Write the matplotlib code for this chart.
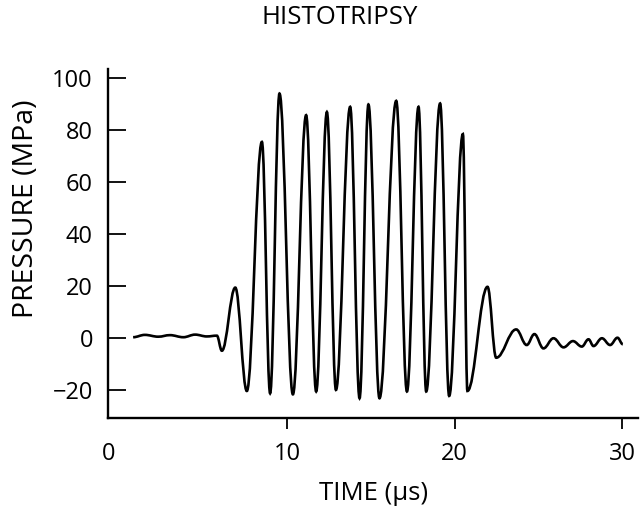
import numpy as np
import matplotlib
matplotlib.use("Agg")
import matplotlib.pyplot as plt
from matplotlib.path import Path
from matplotlib.patches import PathPatch

plt.rcParams['font.family'] = ['Open Sans', 'DejaVu Sans']

# turning points of the pressure trace (time in us, pressure in MPa)
t = [0.8, 1.5, 2.3, 3.0, 3.8, 4.5, 5.2, 5.8,
     6.10, 6.90, 7.59, 8.49, 8.98, 9.54, 10.34, 11.13, 11.73, 12.37,
     12.91, 13.76, 14.32, 14.85, 15.51, 16.51, 17.15, 17.84, 18.30,
     19.13, 19.67, 20.49, 20.76, 21.96, 22.48, 23.67, 24.30, 24.76,
     25.30, 25.90, 26.50, 27.06, 27.59, 27.99, 28.29, 28.79, 29.28,
     29.72, 30.04]
p = [0.3, 1.2, 0.5, 1.1, 0.3, 1.3, 0.6, 0.9,
     -4.9, 19.4, -20.4, 75.5, -21.3, 94.1, -21.7, 85.8, -20.6, 87.0,
     -20.0, 89.0, -23.2, 89.9, -23.2, 91.3, -20.6, 89.0, -20.6,
     90.3, -22.3, 78.5, -20.4, 19.7, -7.6, 3.3, -2.7, 1.5,
     -4.0, -0.1, -3.6, -1.2, -3.3, -0.5, -3.1, -0.1, -2.7,
     0.1, -2.4]

xticks = [10, 20, 30]
yticks = [-20, 0, 20, 40, 60, 80, 100]

fig = plt.figure(figsize=(6.4, 5.24), dpi=100)
ax = fig.add_axes([0.169, 0.2023, 0.828, 0.6657])

# smooth curve: cubic bezier between turning points, flat tangent at each one
k = 0.38
verts = [(t[0], p[0])]
codes = [Path.MOVETO]
for i in range(len(t) - 1):
    dx = t[i + 1] - t[i]
    verts += [(t[i] + k * dx, p[i]), (t[i + 1] - k * dx, p[i + 1]), (t[i + 1], p[i + 1])]
    codes += [Path.CURVE4] * 3
ax.add_patch(PathPatch(Path(verts, codes), facecolor='none', edgecolor='black', lw=1.9))

ax.set_xlim(-0.69, 30.95)
ax.set_ylim(-30.8, 103.5)

ax.spines['top'].set_visible(False)
ax.spines['right'].set_visible(False)
ax.spines['left'].set_linewidth(1.7)
ax.spines['bottom'].set_linewidth(1.7)

# "0" label sits at the axis corner in the original
ax.set_xticks([-0.69] + xticks)
ax.set_xticklabels(['0'] + [str(v) for v in xticks])
ax.set_yticks(yticks)
ax.tick_params(axis='x', direction='out', length=8, width=1.3, pad=9, labelsize=17)
ax.tick_params(axis='y', direction='in', length=13, width=1.3, pad=11, labelsize=17)
ax.xaxis.get_major_ticks()[0].tick1line.set_visible(False)

fig.text(0.531, 0.966, 'HISTOTRIPSY', ha='center', va='center', fontsize=18.5)
fig.text(0.041, 0.601, 'PRESSURE (MPa)', ha='center', va='center', rotation=90, fontsize=20.5)
fig.text(0.583, 0.059, 'TIME (µs)', ha='center', va='center', fontsize=18.5)

fig.savefig('out.png', dpi=100)
